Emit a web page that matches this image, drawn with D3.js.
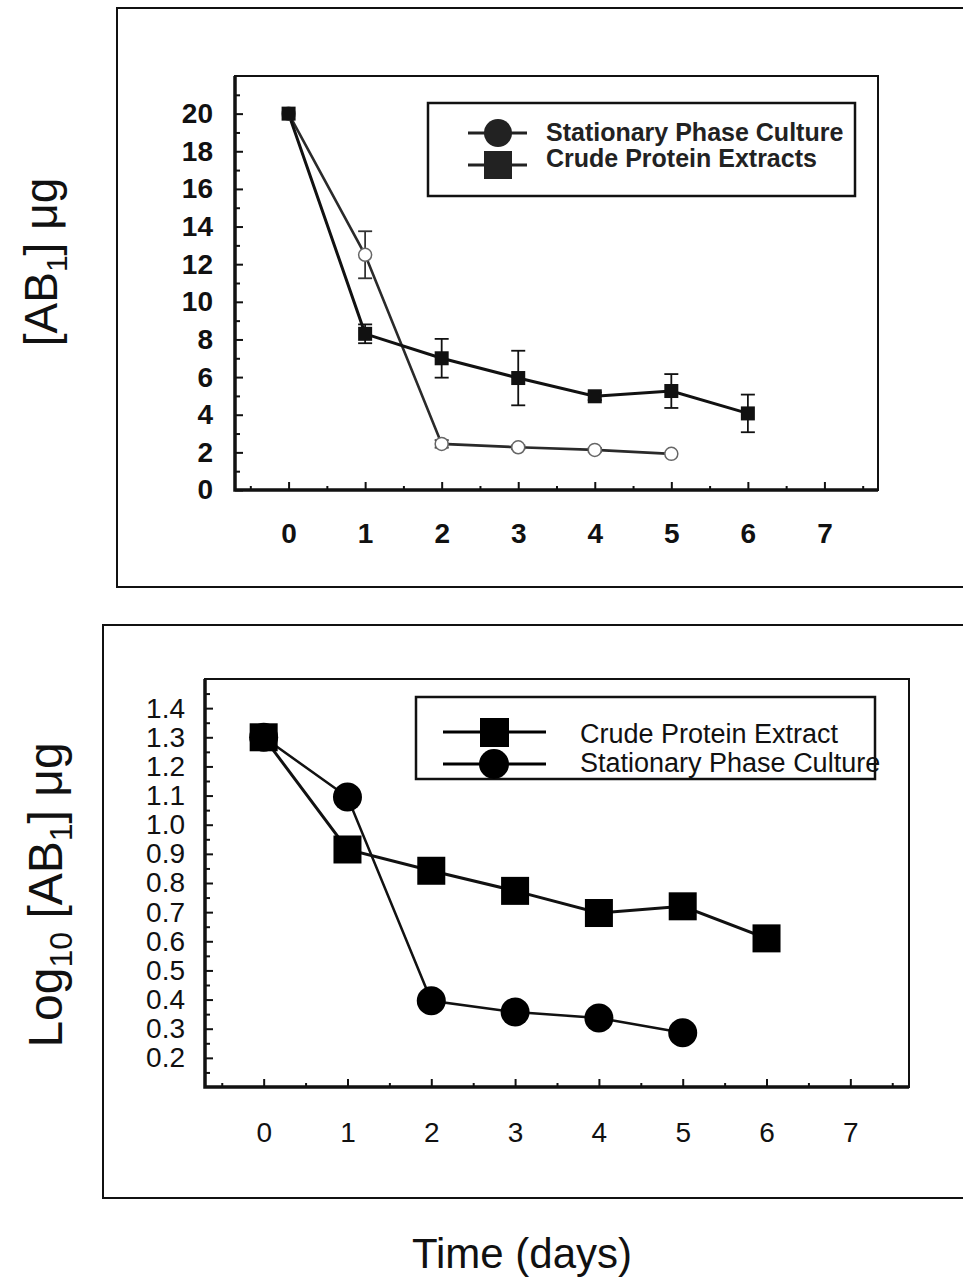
<!DOCTYPE html>
<html>
<head>
<meta charset="utf-8">
<script src="https://cdn.jsdelivr.net/npm/d3@7/dist/d3.min.js"></script>
<style>
  body { margin: 0; background: #fff; }
  svg { display: block; font-family: "Liberation Sans", Arial, sans-serif; }
  .tick line { stroke: #111; stroke-width: 2; }
</style>
</head>
<body>
<svg id="chart" width="963" height="1286"></svg>
<script>
// values
var dayTicks = [0, 1, 2, 3, 4, 5, 6, 7];
var halfDayTicks = [-0.5, 0.5, 1.5, 2.5, 3.5, 4.5, 5.5, 6.5, 7.5];

var crudeDays = [0, 1, 2, 3, 4, 5, 6];
var crudeUg = [20, 8.3, 7.0, 5.95, 4.98, 5.26, 4.07];
var crudeErr = [0, 0.5, 1.03, 1.45, 0.2, 0.9, 1.0];

var stationaryDays = [0, 1, 2, 3, 4, 5];
var stationaryUg = [20, 12.5, 2.45, 2.27, 2.13, 1.92];
var stationaryErr = [0, 1.25, 0.2, 0.1, 0.1, 0];

var crudeLog = [1.30, 0.915, 0.842, 0.773, 0.697, 0.720, 0.610];
var stationaryLog = [1.30, 1.095, 0.396, 0.357, 0.337, 0.286];

var ugTicks = [0, 2, 4, 6, 8, 10, 12, 14, 16, 18, 20];
var ugMinor = [1, 3, 5, 7, 9, 11, 13, 15, 17, 19, 21];
var logTicks = [0.2, 0.3, 0.4, 0.5, 0.6, 0.7, 0.8, 0.9, 1.0, 1.1, 1.2, 1.3, 1.4];
var logMinor = [0.15, 0.25, 0.35, 0.45, 0.55, 0.65, 0.75, 0.85, 0.95, 1.05, 1.15, 1.25, 1.35, 1.45];

var svg = d3.select("#chart");

function frame(x, y, w, h) {
    svg.append("rect")
        .attr("x", x).attr("y", y)
        .attr("width", w).attr("height", h)
        .attr("fill", "none")
        .attr("stroke", "#111")
        .attr("stroke-width", 2);
}

function addAxes(g, scaleX, scaleY, yTicks, yMinor, yFormat, opts) {
    var w = scaleX.range()[1], h = scaleY.range()[0];

    g.append("g")
        .attr("transform", "translate(0," + h + ")")
        .call(d3.axisBottom(scaleX).tickValues(halfDayTicks).tickSize(-4).tickFormat(""));
    g.append("g")
        .attr("class", "xaxis")
        .attr("transform", "translate(0," + h + ")")
        .call(d3.axisBottom(scaleX).tickValues(dayTicks).tickSize(-8).tickPadding(opts.xPad));

    g.append("g")
        .call(d3.axisLeft(scaleY).tickValues(yMinor).tickSize(-5).tickFormat(""));
    g.append("g")
        .attr("class", "yaxis")
        .call(d3.axisLeft(scaleY).tickValues(yTicks).tickSize(-8).tickPadding(opts.yPad).tickFormat(yFormat));

    g.selectAll(".domain").remove();
    g.selectAll(".tick text")
        .attr("fill", "#111")
        .style("font-family", "'Liberation Sans', Arial, sans-serif")
        .style("font-size", opts.font + "px")
        .style("font-weight", opts.weight);

    // plot box: thin top/right, heavy left/bottom
    g.append("rect")
        .attr("width", w).attr("height", h)
        .attr("fill", "none").attr("stroke", "#111").attr("stroke-width", 2);
    g.append("path")
        .attr("d", "M0,0V" + h + "H" + w)
        .attr("fill", "none").attr("stroke", "#111").attr("stroke-width", 3.5);
}

function errorBars(g, xs, ys, errs, scaleX, scaleY, color) {
    var idx = d3.range(xs.length).filter(function(i) { return errs[i] > 0; });
    var bars = g.append("g").attr("stroke", color).attr("stroke-width", 1.8);
    idx.forEach(function(i) {
        var cx = scaleX(xs[i]);
        var top = scaleY(ys[i] + errs[i]), bot = scaleY(ys[i] - errs[i]);
        bars.append("line").attr("x1", cx).attr("x2", cx).attr("y1", top).attr("y2", bot);
        bars.append("line").attr("x1", cx - 7).attr("x2", cx + 7).attr("y1", top).attr("y2", top);
        bars.append("line").attr("x1", cx - 7).attr("x2", cx + 7).attr("y1", bot).attr("y2", bot);
    });
}

function drawTop() {
    frame(117, 8, 900, 579);
    var g = svg.append("g").attr("transform", "translate(235,76)");
    var scaleX = d3.scaleLinear().domain([-0.7, 7.7]).range([0, 643]);
    var scaleY = d3.scaleLinear().domain([0, 22]).range([414, 0]);

    addAxes(g, scaleX, scaleY, ugTicks, ugMinor, d3.format("d"),
        {xPad: 33, yPad: 22, font: 28, weight: "bold"});

    var line = d3.line()
        .x(function(d) { return scaleX(d[0]); })
        .y(function(d) { return scaleY(d[1]); });

    var stat = d3.zip(stationaryDays, stationaryUg);
    var crude = d3.zip(crudeDays, crudeUg);

    errorBars(g, stationaryDays, stationaryUg, stationaryErr, scaleX, scaleY, "#333");
    errorBars(g, crudeDays, crudeUg, crudeErr, scaleX, scaleY, "#111");

    g.append("path").datum(stat).attr("d", line)
        .attr("fill", "none").attr("stroke", "#2a2a2a").attr("stroke-width", 2.6);
    g.append("path").datum(crude).attr("d", line)
        .attr("fill", "none").attr("stroke", "#111").attr("stroke-width", 3);

    g.selectAll("circle.stat").data(stat).enter().append("circle")
        .attr("class", "stat")
        .attr("cx", function(d) { return scaleX(d[0]); })
        .attr("cy", function(d) { return scaleY(d[1]); })
        .attr("r", 6.5)
        .attr("fill", "#fff").attr("stroke", "#666").attr("stroke-width", 1.5);
    g.selectAll("rect.crude").data(crude).enter().append("rect")
        .attr("class", "crude")
        .attr("x", function(d) { return scaleX(d[0]) - 7; })
        .attr("y", function(d) { return scaleY(d[1]) - 7; })
        .attr("width", 14).attr("height", 14)
        .attr("fill", "#111");

    // legend
    svg.append("rect")
        .attr("x", 428).attr("y", 103).attr("width", 427).attr("height", 93)
        .attr("fill", "#fff").attr("stroke", "#111").attr("stroke-width", 2.5);
    var lg = svg.append("g").attr("fill", "#222");
    lg.append("line").attr("x1", 468).attr("x2", 527).attr("y1", 133).attr("y2", 133)
        .attr("stroke", "#222").attr("stroke-width", 3);
    lg.append("circle").attr("cx", 498).attr("cy", 133).attr("r", 14);
    lg.append("line").attr("x1", 468).attr("x2", 527).attr("y1", 165).attr("y2", 165)
        .attr("stroke", "#222").attr("stroke-width", 3);
    lg.append("rect").attr("x", 484).attr("y", 151).attr("width", 28).attr("height", 28);
    lg.append("text").attr("x", 546).attr("y", 141).text("Stationary Phase Culture")
        .style("font-size", "25px").style("font-weight", "bold");
    lg.append("text").attr("x", 546).attr("y", 167).text("Crude Protein Extracts")
        .style("font-size", "25px").style("font-weight", "bold");

    // y title
    var t = svg.append("text")
        .attr("transform", "translate(57,262) rotate(-90)")
        .attr("text-anchor", "middle")
        .attr("fill", "#111")
        .style("font-size", "46px");
    t.append("tspan").text("[AB");
    t.append("tspan").text("1").attr("dy", 10).style("font-size", "30px");
    t.append("tspan").text("] μg").attr("dy", -10);
}

function drawBottom() {
    frame(103, 625, 900, 573);
    var g = svg.append("g").attr("transform", "translate(205,679)");
    var scaleX = d3.scaleLinear().domain([-0.7, 7.7]).range([0, 704]);
    var scaleY = d3.scaleLinear().domain([0.1, 1.5]).range([408, 0]);

    addAxes(g, scaleX, scaleY, logTicks, logMinor, d3.format(".1f"),
        {xPad: 35, yPad: 20, font: 28, weight: "normal"});

    var line = d3.line()
        .x(function(d) { return scaleX(d[0]); })
        .y(function(d) { return scaleY(d[1]); });

    var crude = d3.zip(crudeDays, crudeLog);
    var stat = d3.zip(stationaryDays, stationaryLog);

    g.append("path").datum(stat).attr("d", line)
        .attr("fill", "none").attr("stroke", "#111").attr("stroke-width", 2.5);
    g.append("path").datum(crude).attr("d", line)
        .attr("fill", "none").attr("stroke", "#111").attr("stroke-width", 3);

    g.selectAll("circle.stat").data(stat).enter().append("circle")
        .attr("class", "stat")
        .attr("cx", function(d) { return scaleX(d[0]); })
        .attr("cy", function(d) { return scaleY(d[1]); })
        .attr("r", 14.5)
        .attr("fill", "#000");
    g.selectAll("rect.crude").data(crude).enter().append("rect")
        .attr("class", "crude")
        .attr("x", function(d) { return scaleX(d[0]) - 14; })
        .attr("y", function(d) { return scaleY(d[1]) - 14; })
        .attr("width", 28).attr("height", 28)
        .attr("fill", "#000");

    // legend
    svg.append("rect")
        .attr("x", 416).attr("y", 697).attr("width", 459).attr("height", 82)
        .attr("fill", "#fff").attr("stroke", "#111").attr("stroke-width", 2.5);
    var lg = svg.append("g").attr("fill", "#000");
    lg.append("line").attr("x1", 443).attr("x2", 546).attr("y1", 732).attr("y2", 732)
        .attr("stroke", "#000").attr("stroke-width", 3);
    lg.append("rect").attr("x", 480).attr("y", 718).attr("width", 29).attr("height", 29);
    lg.append("line").attr("x1", 443).attr("x2", 546).attr("y1", 764).attr("y2", 764)
        .attr("stroke", "#000").attr("stroke-width", 3);
    lg.append("circle").attr("cx", 494).attr("cy", 764).attr("r", 15);
    lg.append("text").attr("x", 580).attr("y", 743).text("Crude Protein Extract")
        .attr("fill", "#111").style("font-size", "27px");
    lg.append("text").attr("x", 580).attr("y", 772).text("Stationary Phase Culture")
        .attr("fill", "#111").style("font-size", "27px");

    // y title
    var t = svg.append("text")
        .attr("transform", "translate(62,895) rotate(-90)")
        .attr("text-anchor", "middle")
        .attr("fill", "#111")
        .style("font-size", "48px");
    t.append("tspan").text("Log");
    t.append("tspan").text("10").attr("dy", 10).style("font-size", "32px");
    t.append("tspan").text(" [AB").attr("dy", -10);
    t.append("tspan").text("1").attr("dy", 10).style("font-size", "32px");
    t.append("tspan").text("] μg").attr("dy", -10);

    // shared x title
    svg.append("text")
        .attr("x", 522).attr("y", 1268)
        .attr("text-anchor", "middle")
        .attr("fill", "#111")
        .style("font-size", "42px")
        .text("Time (days)");
}

drawTop();
drawBottom();
</script>
</body>
</html>
